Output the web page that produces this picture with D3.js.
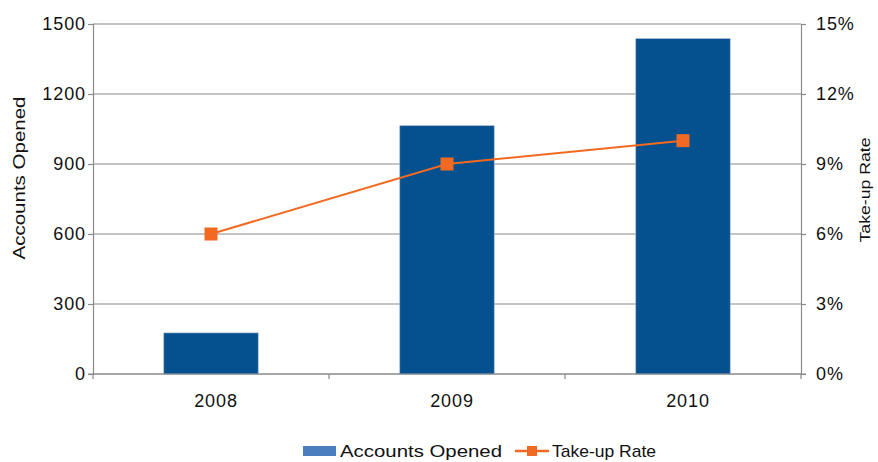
<!DOCTYPE html>
<html>
<head>
<meta charset="utf-8">
<script src="https://cdn.jsdelivr.net/npm/d3@7"></script>
<style>
  body { margin: 0; background: #fff; }
  text { font-family: "Liberation Sans", Arial, Helvetica, sans-serif; fill: #111; }
</style>
</head>
<body>
<div id="chart"></div>
<script>
// chart data
var years = ["2008", "2009", "2010"];
var accountsOpened = [176, 1064, 1437];
var takeUpRate = [0.06, 0.09, 0.10];
var leftTicks = [0, 300, 600, 900, 1200, 1500];
var rightTicks = [0, 0.03, 0.06, 0.09, 0.12, 0.15];

var svgWidth = 878;
var svgHeight = 462;

var margin = { top: 24, right: 77, bottom: 88, left: 93 };
var width = svgWidth - margin.left - margin.right;
var height = svgHeight - margin.top - margin.bottom;

var svg = d3.select("#chart")
  .append("svg")
  .attr("width", svgWidth)
  .attr("height", svgHeight);

var chartGroup = svg.append("g")
  .attr("transform", `translate(${margin.left}, ${margin.top})`);

var xScale = d3.scaleBand().domain(years).range([0, width]).paddingInner(0.6).paddingOuter(0.3);
var xBand = d3.scaleBand().domain(years).range([0, width]);
var yLeft = d3.scaleLinear().domain([0, 1500]).range([height, 0]);
var yRight = d3.scaleLinear().domain([0, 0.15]).range([height, 0]);

var gridColor = "#8a8a8a";

// gridlines
chartGroup.append("g")
  .selectAll("line")
  .data(leftTicks)
  .enter()
  .append("line")
  .attr("x1", 0)
  .attr("x2", width)
  .attr("y1", d => yLeft(d))
  .attr("y2", d => yLeft(d))
  .attr("stroke", gridColor)
  .attr("stroke-width", 1.2);

// bars
chartGroup.append("g")
  .selectAll("rect")
  .data(accountsOpened)
  .enter()
  .append("rect")
  .attr("x", (d, i) => xScale(years[i]))
  .attr("y", d => yLeft(d))
  .attr("width", xScale.bandwidth())
  .attr("height", d => height - yLeft(d))
  .attr("fill", "#05508f")
  .attr("stroke", "#9bb3cf")
  .attr("stroke-width", 0.6);

// axes
var leftAxis = d3.axisLeft(yLeft).tickValues(leftTicks).tickSize(5).tickPadding(2)
  .tickFormat(d3.format("d"));
var rightAxis = d3.axisRight(yRight).tickValues(rightTicks).tickSize(5).tickPadding(10)
  .tickFormat(d => Math.round(d * 100) + "%");
var bottomAxis = d3.axisBottom(xBand).tickSize(0).tickPadding(20);

function styleAxis(g) {
  g.select(".domain").attr("stroke", gridColor).attr("stroke-width", 1.2);
  g.selectAll(".tick line").attr("stroke", gridColor).attr("stroke-width", 1.2);
  g.selectAll("text").attr("font-size", 18).attr("letter-spacing", 0.9).attr("fill", "#111");
}

chartGroup.append("g").call(leftAxis).call(styleAxis);
chartGroup.append("g")
  .attr("transform", `translate(${width}, 0)`)
  .call(rightAxis).call(styleAxis);
var xAxisG = chartGroup.append("g")
  .attr("transform", `translate(0, ${height})`)
  .call(bottomAxis).call(styleAxis);
xAxisG.select(".domain").remove();
xAxisG.selectAll(".tick text").attr("dx", 5);
xAxisG.append("line")
  .attr("x1", -5).attr("x2", width + 5)
  .attr("stroke", gridColor).attr("stroke-width", 1.2);

// category separator ticks
xAxisG.selectAll(".sep")
  .data(years.concat(["end"]))
  .enter()
  .append("line")
  .attr("x1", (d, i) => i < years.length ? xBand(d) : width)
  .attr("x2", (d, i) => i < years.length ? xBand(d) : width)
  .attr("y1", 0)
  .attr("y2", 5)
  .attr("stroke", gridColor)
  .attr("stroke-width", 1.2);

// line for take-up rate
var lineColor = "#f26a21";
var line = d3.line()
  .x((d, i) => xBand(years[i]) + xBand.bandwidth() / 2)
  .y(d => yRight(d));

chartGroup.append("path")
  .datum(takeUpRate)
  .attr("d", line)
  .attr("fill", "none")
  .attr("stroke", lineColor)
  .attr("stroke-width", 2);

chartGroup.append("g")
  .selectAll("rect")
  .data(takeUpRate)
  .enter()
  .append("rect")
  .attr("x", (d, i) => xBand(years[i]) + xBand.bandwidth() / 2 - 6.5)
  .attr("y", d => yRight(d) - 6.5)
  .attr("width", 13)
  .attr("height", 13)
  .attr("fill", lineColor);

// axis titles
svg.append("text")
  .attr("transform", "translate(25, 178) rotate(-90)")
  .attr("text-anchor", "middle")
  .attr("font-size", 17)
  .attr("textLength", 163)
  .attr("lengthAdjust", "spacingAndGlyphs")
  .text("Accounts Opened");

svg.append("text")
  .attr("transform", "translate(870, 190) rotate(-90)")
  .attr("text-anchor", "middle")
  .attr("font-size", 15)
  .attr("textLength", 105)
  .attr("lengthAdjust", "spacingAndGlyphs")
  .text("Take-up Rate");

// legend
var legend = svg.append("g").attr("transform", "translate(303, 450)");
legend.append("rect")
  .attr("x", 0).attr("y", -4)
  .attr("width", 33).attr("height", 10)
  .attr("fill", "#4a7fbd");
legend.append("text")
  .attr("x", 37).attr("y", 7)
  .attr("font-size", 17)
  .attr("textLength", 162)
  .attr("lengthAdjust", "spacingAndGlyphs")
  .text("Accounts Opened");
legend.append("line")
  .attr("x1", 212).attr("x2", 246)
  .attr("y1", 1).attr("y2", 1)
  .attr("stroke", lineColor).attr("stroke-width", 2.5);
legend.append("rect")
  .attr("x", 224).attr("y", -4)
  .attr("width", 10).attr("height", 10)
  .attr("fill", lineColor);
legend.append("text")
  .attr("x", 249).attr("y", 7)
  .attr("font-size", 17)
  .attr("textLength", 104)
  .attr("lengthAdjust", "spacingAndGlyphs")
  .text("Take-up Rate");
</script>
</body>
</html>
